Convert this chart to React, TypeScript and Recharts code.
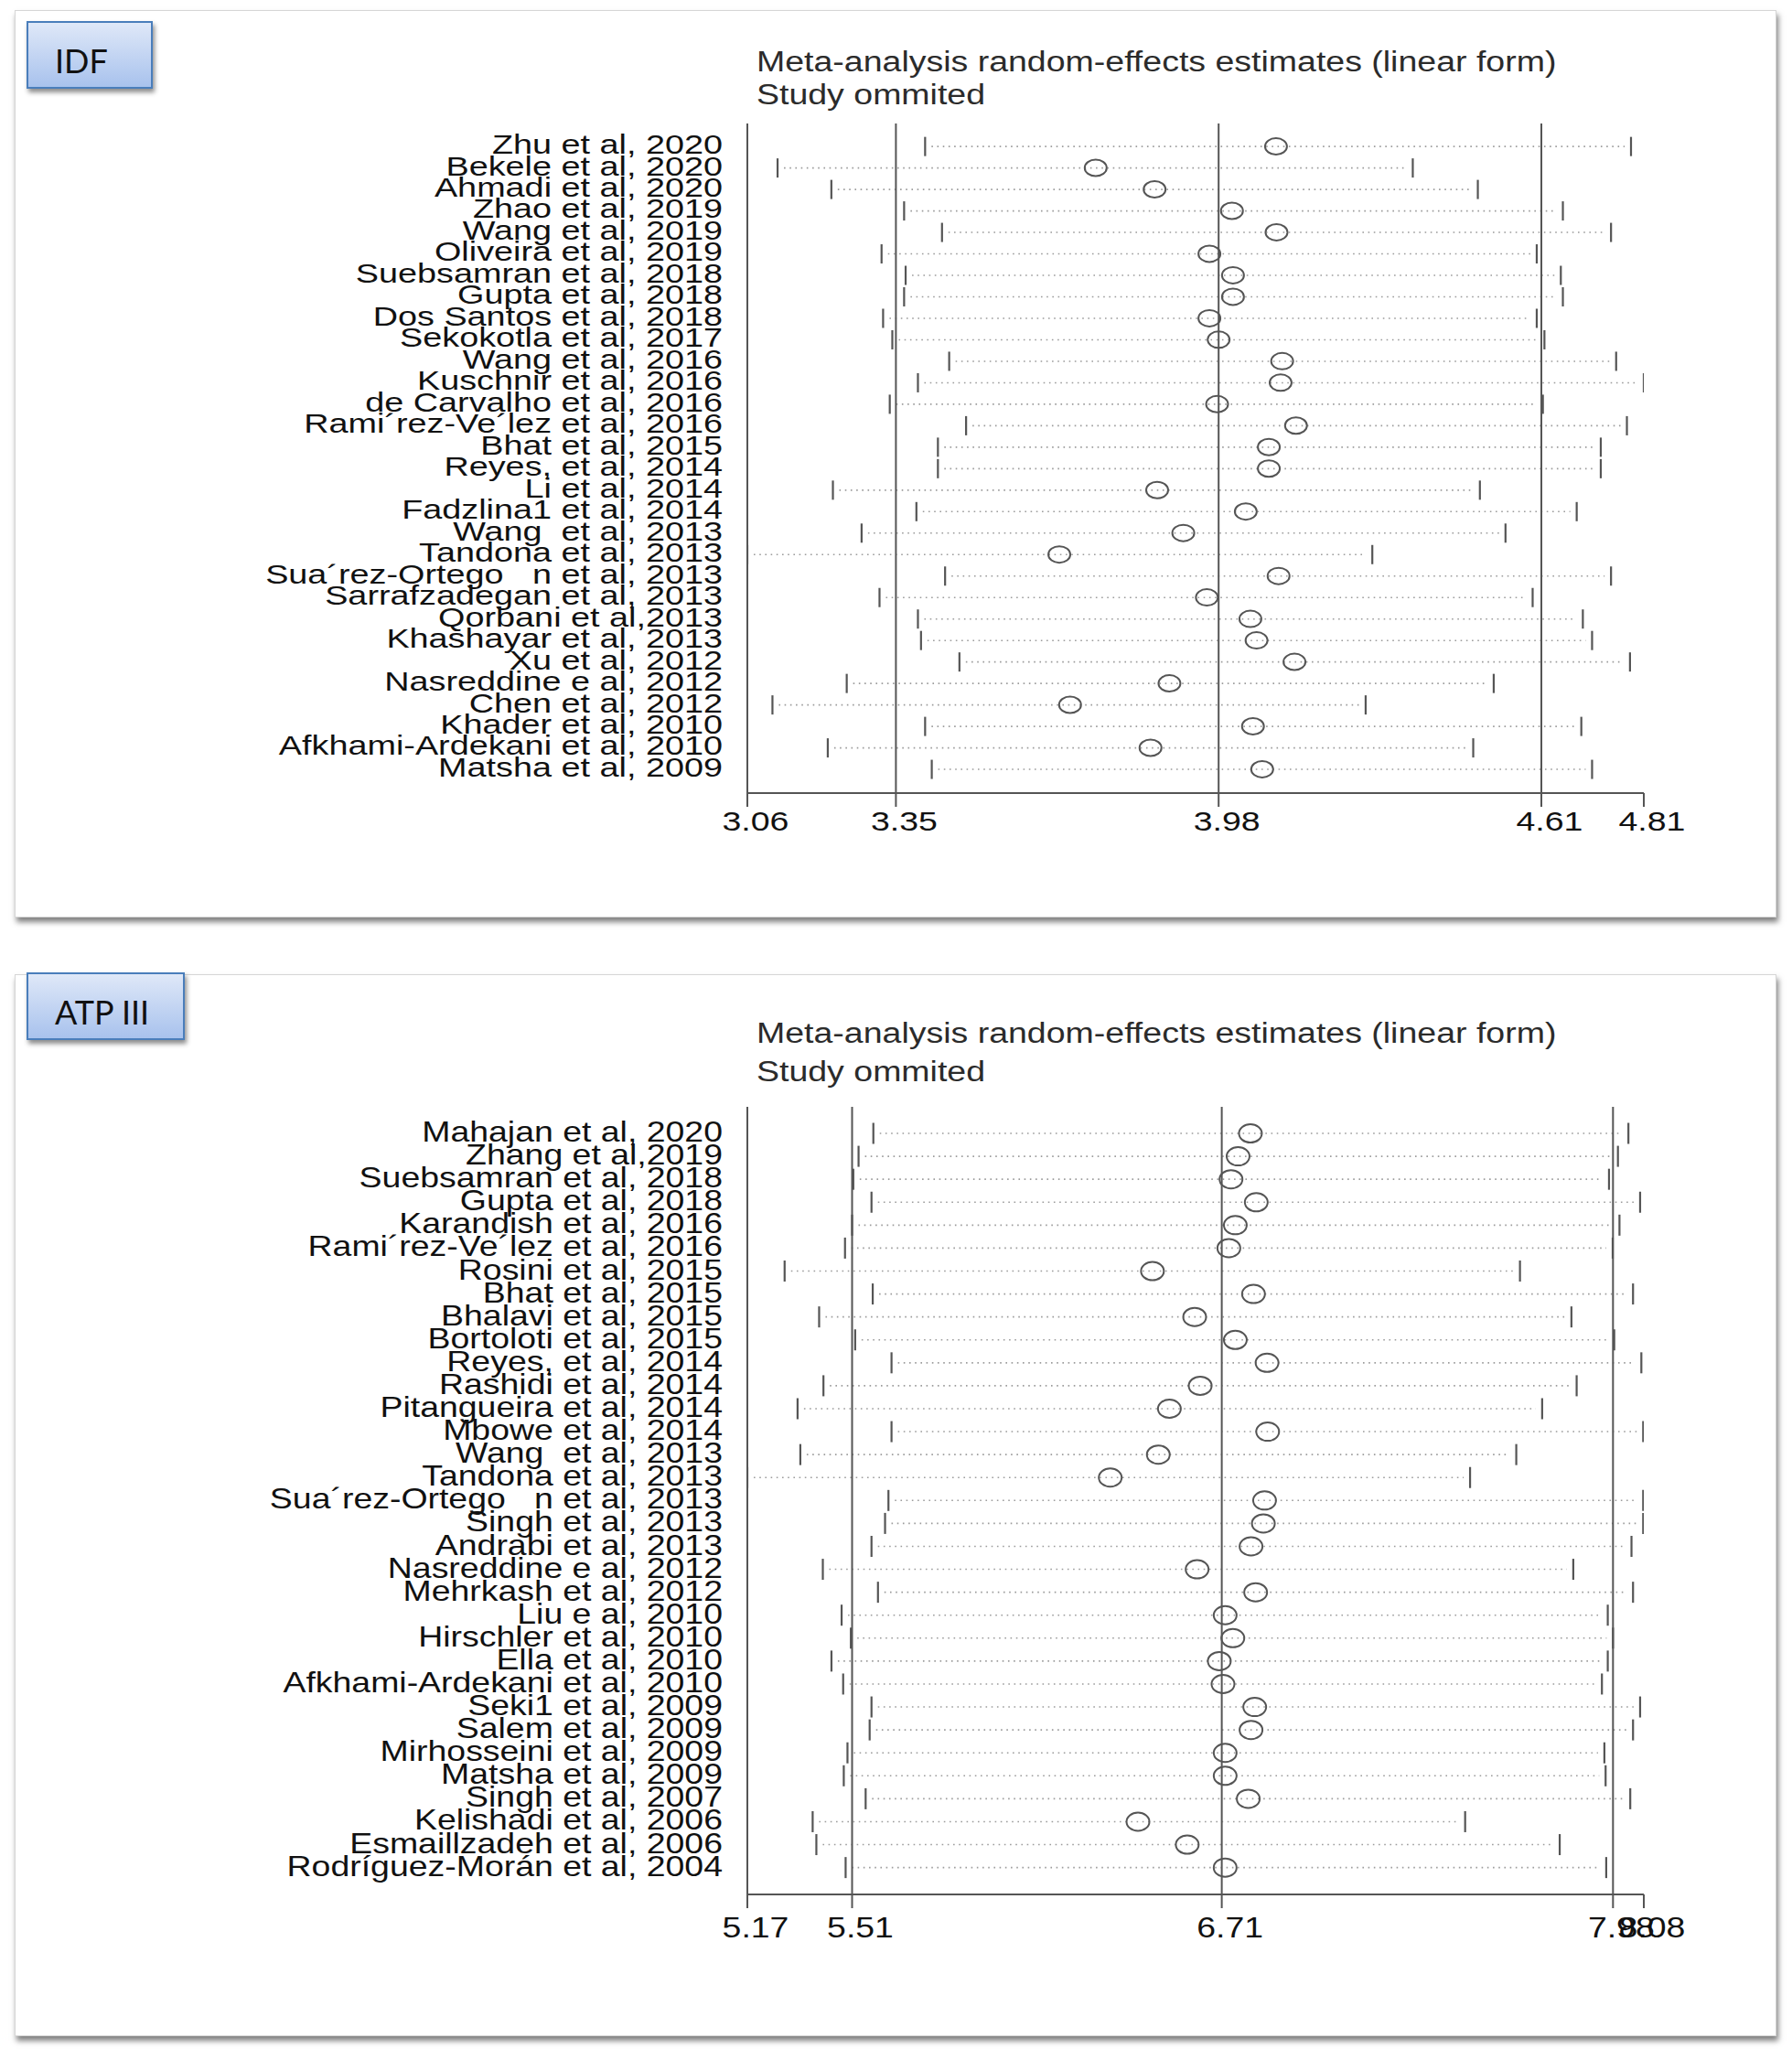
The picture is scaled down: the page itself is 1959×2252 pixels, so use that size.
import React from 'react';
import { ComposedChart, Bar, Line, XAxis, YAxis, ReferenceLine } from 'recharts';

// --- IDF panel ---
const idfStudies = [
  'Zhu et al, 2020', 'Bekele et al, 2020', 'Ahmadi et al, 2020', 'Zhao et al, 2019', 'Wang et al, 2019',
  'Oliveira et al, 2019', 'Suebsamran et al, 2018', 'Gupta et al, 2018', 'Dos Santos et al, 2018', 'Sekokotla et al, 2017',
  'Wang et al, 2016', 'Kuschnir et al, 2016', 'de Carvalho et al, 2016', 'Rami\u00b4rez-Ve\u00b4lez et al, 2016', 'Bhat et al, 2015',
  'Reyes, et al, 2014', 'Li et al, 2014', 'Fadzlina1 et al, 2014', 'Wang  et al, 2013', 'Tandona et al, 2013',
  'Sua\u00b4rez-Ortego   n et al, 2013', 'Sarrafzadegan et al, 2013', 'Qorbani et al,2013', 'Khashayar et al, 2013', 'Xu et al, 2012',
  'Nasreddine e al, 2012', 'Chen et al, 2012', 'Khader et al, 2010', 'Afkhami-Ardekani et al, 2010', 'Matsha et al, 2009',
];
const idfLower = [
  3.407, 3.119, 3.224, 3.366, 3.440, 3.322, 3.369, 3.366, 3.325, 3.343,
  3.454, 3.393, 3.338, 3.487, 3.432, 3.432, 3.227, 3.390, 3.283, 3.06,
  3.446, 3.318, 3.393, 3.399, 3.474, 3.254, 3.109, 3.407, 3.217, 3.420,
];
const idfEstimate = [
  4.092, 3.740, 3.855, 4.006, 4.093, 3.962, 4.008, 4.008, 3.962, 3.980,
  4.104, 4.101, 3.977, 4.131, 4.078, 4.078, 3.860, 4.033, 3.911, 3.669,
  4.097, 3.957, 4.042, 4.054, 4.128, 3.884, 3.690, 4.047, 3.847, 4.065,
];
const idfUpper = [
  4.785, 4.359, 4.486, 4.652, 4.746, 4.601, 4.648, 4.652, 4.601, 4.616,
  4.756, 4.810, 4.613, 4.777, 4.726, 4.726, 4.490, 4.679, 4.540, 4.280,
  4.746, 4.593, 4.691, 4.709, 4.783, 4.517, 4.267, 4.688, 4.477, 4.709,
];
const idfTicks = [3.06, 3.35, 3.98, 4.61, 4.81];
const idfRefLines = [3.35, 3.98, 4.61];

// --- ATP III panel ---
const atpStudies = [
  'Mahajan et al, 2020', 'Zhang et al,2019', 'Suebsamran et al, 2018', 'Gupta et al, 2018', 'Karandish et al, 2016',
  'Rami\u00b4rez-Ve\u00b4lez et al, 2016', 'Rosini et al, 2015', 'Bhat et al, 2015', 'Bhalavi et al, 2015', 'Bortoloti et al, 2015',
  'Reyes, et al, 2014', 'Rashidi et al, 2014', 'Pitangueira et al, 2014', 'Mbowe et al, 2014', 'Wang  et al, 2013',
  'Tandona et al, 2013', 'Sua\u00b4rez-Ortego   n et al, 2013', 'Singh et al, 2013', 'Andrabi et al, 2013', 'Nasreddine e al, 2012',
  'Mehrkash et al, 2012', 'Liu e al, 2010', 'Hirschler et al, 2010', 'Ella et al, 2010', 'Afkhami-Ardekani et al, 2010',
  'Seki1 et al, 2009', 'Salem et al, 2009', 'Mirhosseini et al, 2009', 'Matsha et al, 2009', 'Singh et al, 2007',
  'Kelishadi et al, 2006', 'Esmaillzadeh et al, 2006', 'Rodríguez-Morán et al, 2004',
];
const atpLower = [
  5.579, 5.531, 5.514, 5.573, 5.510, 5.487, 5.291, 5.577, 5.403, 5.520,
  5.638, 5.417, 5.333, 5.638, 5.342, 5.17, 5.628, 5.617, 5.573, 5.415,
  5.594, 5.476, 5.506, 5.443, 5.481, 5.573, 5.567, 5.495, 5.483, 5.554,
  5.382, 5.394, 5.489,
];
const atpEstimate = [
  6.803, 6.763, 6.740, 6.822, 6.754, 6.733, 6.485, 6.813, 6.622, 6.754,
  6.857, 6.640, 6.540, 6.859, 6.504, 6.348, 6.849, 6.845, 6.805, 6.630,
  6.820, 6.721, 6.746, 6.702, 6.714, 6.817, 6.805, 6.721, 6.721, 6.796,
  6.438, 6.598, 6.721,
];
const atpUpper = [
  8.030, 7.996, 7.967, 8.068, 8.001, 7.979, 7.678, 8.045, 7.845, 7.984,
  8.072, 7.862, 7.750, 8.078, 7.666, 7.516, 8.078, 8.078, 8.040, 7.851,
  8.045, 7.963, 7.980, 7.963, 7.944, 8.068, 8.045, 7.952, 7.956, 8.036,
  7.500, 7.807, 7.958,
];
const atpTicks = [5.17, 5.51, 6.71, 7.98, 8.08];
const atpRefLines = [5.51, 6.71, 7.98];

const FONT = '"Liberation Sans", Arial, Helvetica, sans-serif';
const INK = '#555';

type Look = {
  labelSize: number; labelScale: number; labelDy: number;
  tickFont: number; tickScale: number; tickDy: number;
  capHalf: number; rx: number; ry: number;
};

const idfLook: Look = { labelSize: 30, labelScale: 1.26, labelDy: 8, tickFont: 30, tickScale: 1.25, tickDy: 26, capHalf: 10.5, rx: 12, ry: 9 };
const atpLook: Look = { labelSize: 32, labelScale: 1.17, labelDy: 9, tickFont: 32, tickScale: 1.17, tickDy: 32, capHalf: 11.5, rx: 12.5, ry: 10 };

function ForestPanel(props: {
  studies: string[]; lower: number[]; estimate: number[]; upper: number[];
  ticks: number[]; refLines: number[]; top: number; plotHeight: number;
  padTop: number; padBottom: number; axisHeight: number; look: Look;
}) {
  const { studies, lower, estimate, upper, ticks, refLines, top, plotHeight, padTop, padBottom, axisHeight, look } = props;
  const rows = studies.map((study, i) => ({ study, lo: lower[i], est: estimate[i], hi: upper[i] }));

  const studyTick = (p: any) => (
    <text
      transform={`translate(${p.x} ${p.y + look.labelDy}) scale(${look.labelScale} 1)`}
      textAnchor="end" fontFamily={FONT} fontSize={look.labelSize} fill="#111"
      xmlSpace="preserve" style={{ whiteSpace: 'pre' }}
    >
      {p.payload.value}
    </text>
  );

  const valueTick = (p: any) => (
    <text
      transform={`translate(${p.x + 9} ${p.y + look.tickDy}) scale(${look.tickScale} 1)`}
      textAnchor="middle" fontFamily={FONT} fontSize={look.tickFont} fill="#111"
    >
      {Number(p.payload.value).toFixed(2)}
    </text>
  );

  // dotted CI line with end caps
  const ciShape = (p: any) => {
    const x0 = Math.min(p.x, p.x + p.width);
    const x1 = Math.max(p.x, p.x + p.width);
    const cy = p.y + p.height / 2;
    return (
      <g>
        <line x1={x0 + 7} x2={x1 - 7} y1={cy} y2={cy} stroke="#9c9c9c" strokeWidth={1.6} strokeDasharray="1.6 4.6" />
        <line x1={x0} x2={x0} y1={cy - look.capHalf} y2={cy + look.capHalf} stroke={INK} strokeWidth={2.2} />
        <line x1={x1} x2={x1} y1={cy - look.capHalf} y2={cy + look.capHalf} stroke={INK} strokeWidth={2.2} />
      </g>
    );
  };

  const estDot = (p: any) => (
    <ellipse key={`est-${p.index}`} cx={p.cx} cy={p.cy} rx={look.rx} ry={look.ry} fill="none" stroke={INK} strokeWidth={2} />
  );

  return (
    <div style={{ position: 'absolute', left: 0, top }}>
      <ComposedChart
        layout="vertical" width={1959} height={plotHeight + axisHeight} data={rows}
        margin={{ top: 0, right: 162, bottom: 0, left: 17 }}
      >
        <XAxis
          type="number" domain={[ticks[0], ticks[ticks.length - 1]]} ticks={ticks} interval={0} allowDataOverflow
          height={axisHeight} tickSize={15} tickMargin={0}
          axisLine={{ stroke: INK, strokeWidth: 2 }} tickLine={{ stroke: INK, strokeWidth: 2 }} tick={valueTick}
        />
        <YAxis
          type="category" dataKey="study" width={800} interval={0} padding={{ top: padTop, bottom: padBottom }}
          tickLine={false} tickSize={12} tickMargin={15} axisLine={{ stroke: INK, strokeWidth: 2 }} tick={studyTick}
        />
        {refLines.map((v) => (
          <ReferenceLine key={v} x={v} stroke={INK} strokeWidth={2} />
        ))}
        <Bar dataKey={(d: any) => [d.lo, d.hi]} shape={ciShape} isAnimationActive={false} />
        <Line dataKey="est" stroke="none" dot={estDot} activeDot={false} isAnimationActive={false} />
      </ComposedChart>
    </div>
  );
}

const frame: React.CSSProperties = {
  position: 'absolute', left: 16, width: 1926, background: '#fff',
  border: '1px solid #d6d6d6', boxShadow: '2px 5px 6px rgba(0,0,0,0.5)', boxSizing: 'border-box',
};

const tag: React.CSSProperties = {
  position: 'absolute', left: 29, height: 74, boxSizing: 'border-box',
  background: 'linear-gradient(to bottom, #dfe8f8, #a8c2ed)', border: '2px solid #4a7ebb',
  boxShadow: '2px 4px 5px rgba(0,0,0,0.45)',
};

export default function App() {
  return (
    <div style={{ position: 'absolute', left: 0, top: 0, width: 1959, height: 2252, background: '#fff', overflow: 'hidden' }}>
      <div style={{ ...frame, top: 11, height: 992 }} />
      <div style={{ ...frame, top: 1065, height: 1161 }} />
      <div style={{ ...tag, top: 23, width: 138 }} />
      <div style={{ ...tag, top: 1063, width: 173 }} />

      <ForestPanel
        studies={idfStudies} lower={idfLower} estimate={idfEstimate} upper={idfUpper}
        ticks={idfTicks} refLines={idfRefLines} top={135} plotHeight={732}
        padTop={13.3} padBottom={14.3} axisHeight={60} look={idfLook}
      />
      <ForestPanel
        studies={atpStudies} lower={atpLower} estimate={atpEstimate} upper={atpUpper}
        ticks={atpTicks} refLines={atpRefLines} top={1210} plotHeight={861}
        padTop={16.5} padBottom={16.8} axisHeight={70} look={atpLook}
      />

      <svg width={1959} height={2252} style={{ position: 'absolute', left: 0, top: 0, pointerEvents: 'none' }}>
        <text x={60} y={80} fontFamily="Lato, 'Open Sans', sans-serif" fontSize={36} fill="#111">IDF</text>
        <text x={60} y={1120} fontFamily="Lato, 'Open Sans', sans-serif" fontSize={36} fill="#111">ATP III</text>
        <g fontFamily={FONT} fontSize={31} fill="#2b2b2b">
          <text transform="translate(827 78) scale(1.21 1)">Meta-analysis random-effects estimates (linear form)</text>
          <text transform="translate(827 114) scale(1.21 1)">Study ommited</text>
          <text transform="translate(827 1140) scale(1.21 1)">Meta-analysis random-effects estimates (linear form)</text>
          <text transform="translate(827 1182) scale(1.21 1)">Study ommited</text>
        </g>
      </svg>
    </div>
  );
}
